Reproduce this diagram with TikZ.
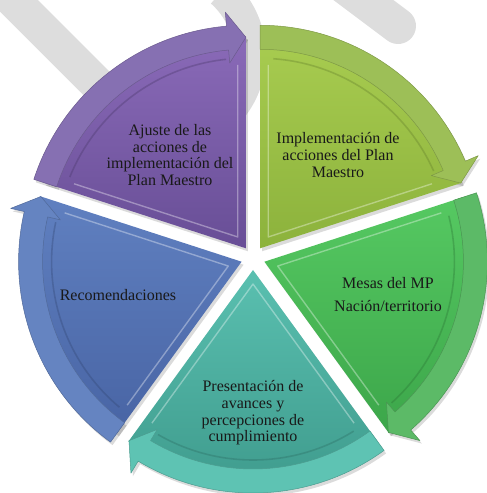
\documentclass[tikz,border=0pt]{standalone}
\usepackage{fontspec}
\setmainfont{Liberation Serif}
\usetikzlibrary{calc}

% palette
\definecolor{wmgray}{RGB}{221,221,221}
\definecolor{txt}{RGB}{25,25,25}
\definecolor{gyTop}{RGB}{168,204,80}
\definecolor{gyBot}{RGB}{140,178,60}
\definecolor{gyBand}{RGB}{157,191,87}
\definecolor{grTop}{RGB}{86,201,98}
\definecolor{grBot}{RGB}{60,166,74}
\definecolor{grBand}{RGB}{92,186,103}
\definecolor{tlTop}{RGB}{90,192,176}
\definecolor{tlBot}{RGB}{62,154,140}
\definecolor{tlBand}{RGB}{94,195,179}
\definecolor{blTop}{RGB}{96,128,192}
\definecolor{blBot}{RGB}{72,100,164}
\definecolor{blBand}{RGB}{101,132,193}
\definecolor{puTop}{RGB}{138,106,184}
\definecolor{puBot}{RGB}{104,78,150}
\definecolor{puBand}{RGB}{134,112,178}

\tikzset{
  wm/.style={draw=wmgray, line width=35pt},
  label/.style={text=txt, align=center, font=\fontsize{16}{16.7}\selectfont, inner sep=0pt},
}

% radii of the wedge, the rim arrow band and its head
\def\Rw{212}
\def\Ri{199}
\def\Ro{223}
\def\Hi{186}
\def\Ho{237}
\def\Ht{211}
\def\Hlen{5}

% one exploded pie wedge with its clockwise rim arrow
% #1 start angle, #2 end angle, #3 top colour, #4 bottom colour, #5 band colour
\newcommand\pieWedge[5]{%
  \begin{scope}[shift={($(C)+({(#1+#2)/2}:12)$)}]
    \fill[black, opacity=0.14, shift={(2,-3)}]
      (0,0) -- (#1:\Rw) arc[start angle=#1, end angle=#2, radius=\Rw] -- cycle;
    \fill[black, opacity=0.14, shift={(2,-3)}]
      (#1:\Ri) -- (#1:\Ro) arc[start angle=#1, end angle=#2+\Hlen, radius=\Ro]
      -- (#2+\Hlen:\Ho) -- (#2:\Ht) -- (#2+\Hlen:\Hi) -- (#2+\Hlen:\Ri)
      arc[start angle=#2+\Hlen, end angle=#1, radius=\Ri] -- cycle;
    \shade[top color=#3, bottom color=#4]
      (0,0) -- (#1:\Rw) arc[start angle=#1, end angle=#2, radius=\Rw] -- cycle;
    % bevel highlight along the inner edges
    \begin{scope}[shift={({(#1+#2)/2}:14)}]
      \draw[white, opacity=0.35, line width=1.4pt, line join=round]
        (#2:172) -- (0,0) -- (#1:172);
    \end{scope}
    \draw[#4!70!black, opacity=0.35, line width=1.6pt]
      ([shift={(#1-4:190)}]0,0) arc[start angle=#1-4, end angle=#2+6, radius=190];
    % rim arrow
    \fill[#5, draw=#5!80!black, line width=0.5pt, line join=round]
      (#1:\Ri) -- (#1:\Ro) arc[start angle=#1, end angle=#2+\Hlen, radius=\Ro]
      -- (#2+\Hlen:\Ho) -- (#2:\Ht) -- (#2+\Hlen:\Hi) -- (#2+\Hlen:\Ri)
      arc[start angle=#2+\Hlen, end angle=#1, radius=\Ri] -- cycle;
  \end{scope}%
}

\begin{document}
\begin{tikzpicture}[x=1pt, y=1pt]
  \useasboundingbox (0,0) rectangle (487,493);
  \coordinate (C) at (253,235);

  % faint diagonal watermark strokes
  \draw[wm] (-20,526) -- (140,366);
  \draw[wm, line width=32pt] ([shift={(48:85)}]165,438) arc[start angle=48, end angle=-40, radius=85];
  \draw[wm, line width=36pt, line cap=round] (330,518) -- (398,467);

  % the five wedges, clockwise from the top
  \pieWedge{90}{18}{gyTop}{gyBot}{gyBand}
  \pieWedge{18}{-54}{grTop}{grBot}{grBand}
  \pieWedge{-54}{-126}{tlTop}{tlBot}{tlBand}
  \pieWedge{-126}{-198}{blTop}{blBot}{blBand}
  \pieWedge{162}{90}{puTop}{puBot}{puBand}

  % captions
  \node[label] (implementacion) at (338,338) {Implementación de\\acciones del Plan\\Maestro};
  \node[label] (mesas) at (388,198.5) {Mesas del MP\\[6.3pt]Nación/territorio};
  \node[label] (presentacion) at (253,80) {Presentación de\\avances y\\percepciones de\\cumplimiento};
  \node[label] (recomendaciones) at (118,198) {Recomendaciones};
  \node[label] (ajuste) at (170,338) {Ajuste de las\\acciones de\\implementación del\\Plan Maestro};
\end{tikzpicture}
\end{document}
